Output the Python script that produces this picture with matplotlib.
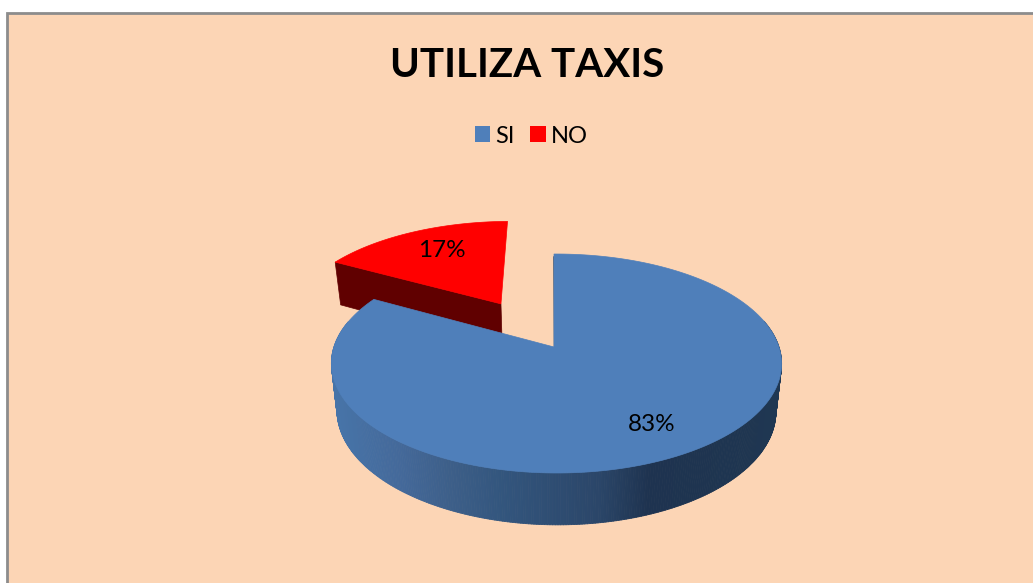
#!/usr/bin/env python3
# 3D-looking exploded pie, drawn in pixel coordinates
import numpy as np
import matplotlib
matplotlib.use('Agg')
import matplotlib.pyplot as plt
from matplotlib.collections import PolyCollection
from matplotlib.patches import Patch, Rectangle

TITLE = "UTILIZA TAXIS"
CATEGORIES = ["SI", "NO"]
VALUES = [83, 17]

WIDTH, HEIGHT = 1033, 583
BG = '#FCD5B5'
BORDER = '#8C8C8C'
BLUE = '#4F7FBA'
RED = '#FF0000'
DARK_RED = '#600000'
SIDE_X = [336, 400, 450, 500, 600, 650, 700, 780]
SIDE_COLORS = ['#4774A8', '#44699A', '#3D5F89', '#33567E', '#2B4669',
               '#1E3350', '#1E3450', '#1F3752']

# Perspective of the pie disc
CX, CY = 554., 347.
RX, RY = 222.5, 107.
PERSP = -0.1507
PERSP_X = -0.011
DEPTH = 46.7
SHRINK = 0.975
EXPLODE = 0.5

LABEL_POS = [(652, 424.5), (442, 250.5)]

def project(u, w, lower=False):
    d = 1. + PERSP * w + PERSP_X * u
    x, y = RX * u / d, RY * w / d
    if lower:
        return CX + SHRINK * x, CY + SHRINK * y + DEPTH / d
    return CX + x, CY + y

# Disc coordinates of a slice outline
def slice_uw(start, end, offset=0.):
    a = np.radians(np.linspace(start, end, 200))
    mid = np.radians(.5 * (start + end))
    return (np.cos(a) + offset * np.cos(mid),
            -np.sin(a) - offset * np.sin(mid),
            offset * np.cos(mid), -offset * np.sin(mid))

def side_color(x):
    rgb = np.array([matplotlib.colors.to_rgb(c) for c in SIDE_COLORS])
    return [np.interp(x, SIDE_X, rgb[:, i]) for i in range(3)]

def main():
    plt.rcParams['font.family'] = ['Lato', 'DejaVu Sans']
    fig = plt.figure(figsize=(WIDTH / 100., HEIGHT / 100.), dpi=100,
                     facecolor='white')
    ax = fig.add_axes([0, 0, 1, 1])
    ax.set_xlim(0, WIDTH)
    ax.set_ylim(HEIGHT, 0)
    ax.axis('off')
    ax.add_patch(Rectangle((7, 12.5), WIDTH, HEIGHT, facecolor=BG,
                           edgecolor=BORDER, linewidth=2.))

    fracs = np.array(VALUES) / float(sum(VALUES))
    si_start = 90.
    si_end = si_start - 360. * fracs[0]

    # Exploded NO slice: inner face then top
    u, w, ou, ow = slice_uw(si_end + 360., si_start, EXPLODE)
    tx0, ty0 = project(ou, ow)
    lx0, ly0 = project(ou, ow, lower=True)
    tx1, ty1 = project(u[0], w[0])
    lx1, ly1 = project(u[0], w[0], lower=True)
    ax.fill([tx0, tx1, lx1, lx0], [ty0, ty1, ly1, ly0], DARK_RED, lw=0.5,
            edgecolor=DARK_RED, zorder=2)
    x, y = project(u, w)
    ax.fill(np.r_[tx0, x], np.r_[ty0, y], RED, lw=0.5, edgecolor=RED, zorder=3)

    # SI slice: rim as shaded quads, then top
    a = np.radians(np.linspace(si_end, si_end + 240., 400))
    a = a[(np.sin(a) < 0.25)]
    ux, wx = np.cos(a), -np.sin(a)
    x0, y0 = project(ux, wx)
    x1, y1 = project(ux, wx, lower=True)
    quads = [[(x0[i], y0[i]), (x0[i+1], y0[i+1]), (x1[i+1], y1[i+1]),
              (x1[i], y1[i])] for i in range(len(a) - 1)]
    cols = [side_color(.5 * (x0[i] + x0[i+1])) for i in range(len(a) - 1)]
    ax.add_collection(PolyCollection(quads, facecolors=cols, edgecolors=cols,
                                     linewidths=0.6, zorder=4))
    u, w, _, _ = slice_uw(si_start, si_end)
    x, y = project(u, w)
    ax.fill(np.r_[CX, x], np.r_[CY, y], BLUE, lw=0.5, edgecolor=BLUE, zorder=5)
    # thin dark face along the cut at 12 o'clock
    ax.plot([x[0], CX + 0.5], [y[0] + 3, CY], color='#1F3752', lw=1.0,
            zorder=4.5)

    for val, (lx, ly) in zip(VALUES, LABEL_POS):
        ax.text(lx, ly, "%d%%" % val, ha='center', va='center', fontsize=17.5,
                color='black', zorder=6)

    ax.text(527, 65.5, TITLE, ha='center', va='center', fontsize=29,
            fontweight='bold', color='black', zorder=6)
    handles = [Patch(facecolor=BLUE, edgecolor='none'),
               Patch(facecolor=RED, edgecolor='none')]
    ax.legend(handles, CATEGORIES, loc='center', ncol=2, frameon=False,
              bbox_to_anchor=(531.5 / WIDTH, 1. - 136. / HEIGHT),
              fontsize=17, handlelength=0.65, handleheight=0.65,
              handletextpad=0.22, columnspacing=0.65, borderpad=0.)
    fig.savefig('out.png', dpi=100, facecolor='white')

if __name__ == '__main__':
    main()
